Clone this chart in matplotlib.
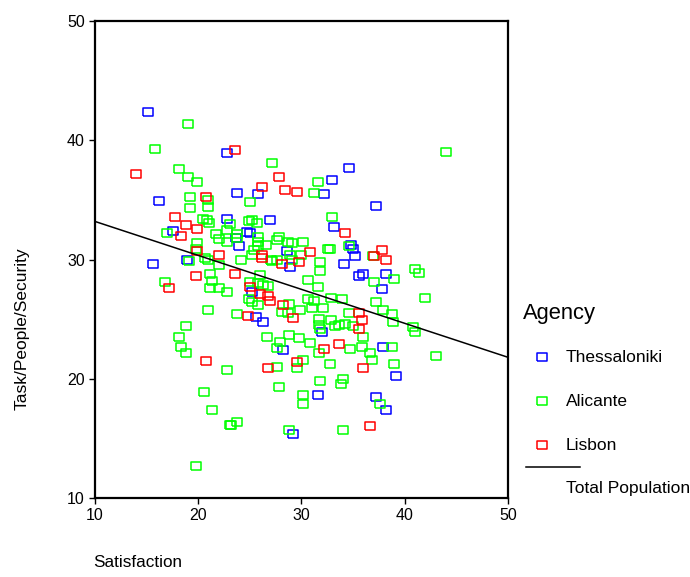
import matplotlib
matplotlib.use("Agg")
import matplotlib.pyplot as plt
from matplotlib.lines import Line2D

plt.rcParams['font.family'] = ['Liberation Sans', 'DejaVu Sans']

# Satisfaction (x) and Task/People/Security (y) per agency
thess_x = [15.2, 22.8, 16.2, 22.8, 17.6, 18.9, 15.6, 34.6, 33.0, 23.8, 25.8, 32.2, 27.0,
           33.2, 24.7, 25.0, 23.7, 24.0, 28.6, 34.1, 28.9, 25.2, 25.6, 26.3, 32.0,
           28.2, 31.6, 29.2, 37.2, 34.8, 35.0, 35.2, 35.6, 36.0, 38.2, 37.8, 37.9,
           39.2, 37.2, 38.2]
thess_y = [42.4, 38.9, 34.9, 33.4, 32.4, 30.0, 29.6, 37.7, 36.7, 35.6, 35.5, 35.5, 33.3,
           32.7, 32.3, 32.2, 31.8, 31.1, 30.7, 29.6, 29.4, 27.3, 25.2, 24.8, 23.9,
           22.4, 18.6, 15.4, 34.5, 31.2, 30.9, 30.3, 28.6, 28.8, 28.8, 27.5, 22.7,
           20.2, 18.5, 17.4]

alic_x = [19.0, 15.8, 18.2, 19.0, 19.9, 19.2, 21.0, 19.2, 21.0, 20.5, 20.9, 21.1, 17.0,
          21.7, 22.0, 22.8, 22.8, 19.9, 19.8, 20.7, 21.0, 19.1, 22.0, 21.2, 21.4,
          16.8, 21.2, 22.0, 22.8, 21.0, 18.8, 18.2, 18.4, 18.8, 22.8, 20.6, 21.4,
          23.1, 19.8, 27.2, 31.6, 25.0, 31.2, 33.0, 23.1, 24.9, 25.2, 25.7, 23.8,
          23.8, 25.8, 25.8, 27.6, 27.8, 28.7, 29.1, 30.2, 25.4, 25.8, 26.6, 32.6,
          32.8, 34.6, 25.2, 24.2, 27.1, 27.6, 28.9, 29.1, 30.0, 31.8, 26.0, 31.8,
          30.6, 25.0, 25.8, 26.3, 26.8, 31.6, 24.9, 25.2, 30.6, 31.2, 32.9, 28.8,
          25.8, 28.1, 28.7, 29.9, 31.0, 32.1, 34.6, 23.8, 31.7, 31.7, 32.9, 33.3,
          33.6, 34.2, 31.8, 26.7, 28.8, 29.8, 27.9, 30.8, 27.6, 31.7, 34.7, 30.2,
          29.6, 27.6, 32.8, 34.0, 33.8, 31.8, 27.8, 30.2, 30.2, 23.2, 23.8, 28.8,
          34.0, 44.0, 41.0, 41.4, 37.0, 39.0, 42.0, 33.9, 37.2, 37.9, 38.8, 38.9,
          35.0, 40.8, 41.0, 36.0, 35.9, 38.8, 36.6, 36.8, 43.0, 39.0, 37.6, 27.2,
          36.9]
alic_y = [41.4, 39.3, 37.6, 36.9, 36.5, 35.2, 35.0, 34.3, 34.4, 33.4, 33.3, 33.1, 32.2,
          32.1, 31.7, 31.5, 32.5, 31.4, 30.9, 30.1, 30.0, 29.9, 29.5, 28.8, 28.2,
          28.1, 27.6, 27.6, 27.3, 25.8, 24.4, 23.5, 22.7, 22.2, 20.7, 18.9, 17.4,
          16.1, 12.7, 38.1, 36.5, 34.8, 35.6, 33.6, 33.0, 33.2, 33.3, 33.1, 32.1,
          31.8, 31.9, 31.5, 31.6, 31.9, 31.5, 31.4, 31.5, 30.8, 31.1, 31.2, 30.9,
          30.9, 31.1, 30.4, 30.0, 30.0, 30.0, 30.4, 30.0, 30.4, 29.8, 28.7, 29.0,
          28.3, 28.1, 28.0, 27.9, 27.8, 27.7, 26.7, 26.4, 26.7, 26.5, 26.8, 26.3,
          26.2, 25.6, 25.5, 25.8, 25.9, 25.9, 25.5, 25.4, 25.0, 24.5, 24.9, 24.4,
          24.5, 24.6, 24.2, 23.5, 23.7, 23.4, 23.1, 23.0, 22.6, 22.2, 22.5, 21.6,
          20.9, 21.0, 21.2, 20.0, 19.6, 19.8, 19.3, 18.6, 17.9, 16.1, 16.4, 15.7,
          15.7, 39.0, 29.2, 28.9, 28.1, 28.4, 26.8, 26.7, 26.4, 25.8, 25.4, 24.8,
          24.4, 24.3, 23.9, 23.5, 22.7, 22.7, 22.2, 21.6, 21.9, 21.2, 17.9, 29.9,
          30.3]

lisb_x = [14.0, 20.8, 17.8, 18.8, 18.4, 19.9, 19.9, 22.0, 19.8, 17.2, 20.8, 23.6, 27.8,
          26.2, 28.4, 29.6, 34.2, 30.8, 26.2, 26.2, 28.1, 29.8, 23.6, 25.0, 26.0,
          26.8, 27.0, 28.2, 24.8, 29.2, 33.6, 32.2, 29.6, 26.8, 37.8, 37.0, 38.2,
          35.6, 35.9, 35.6, 36.0, 36.6]
lisb_y = [37.2, 35.2, 33.6, 32.9, 32.0, 32.6, 30.7, 30.4, 28.6, 27.6, 21.5, 39.2, 36.9,
          36.1, 35.8, 35.7, 32.2, 30.6, 30.4, 30.1, 29.6, 29.8, 28.8, 27.7, 27.1,
          26.9, 26.5, 26.2, 25.3, 25.1, 22.9, 22.5, 21.4, 20.9, 30.8, 30.3, 30.0,
          25.5, 24.9, 24.2, 20.9, 16.0]

# Total population fit line
fit_intercept = 36.05
fit_slope = -0.285

agencies = ["Thessaloniki", "Alicante", "Lisbon"]
colors = ["#0000ff", "#00ff00", "#ff0000"]

rect = [(-1.35, -1), (1.35, -1), (1.35, 1), (-1.35, 1), (-1.35, -1)]

fig = plt.figure(figsize=(6.9, 5.77), dpi=100)
ax = fig.add_axes([0.1372, 0.1369, 0.5990, 0.8267])

series = [(thess_x, thess_y), (alic_x, alic_y), (lisb_x, lisb_y)]
for (xs, ys), c in zip(series, colors):
    ax.plot(xs, ys, linestyle="none", marker=rect, markersize=7.5,
            markerfacecolor="none", markeredgecolor=c, markeredgewidth=1.1)

ax.plot([10, 50], [fit_intercept + fit_slope * 10, fit_intercept + fit_slope * 50],
        color="black", lw=1.1)

ax.set_xlim(10, 50)
ax.set_ylim(10, 50)
ax.set_xticks([10, 20, 30, 40, 50])
ax.set_yticks([10, 20, 30, 40, 50])
ax.tick_params(direction="out", length=4, width=1, labelsize=11.5, pad=3)
for s in ax.spines.values():
    s.set_linewidth(1.6)

fig.text(0.032, 0.43, "Task/People/Security", rotation=90, fontsize=12.5,
         ha="center", va="center")
fig.text(0.135, 0.012, "Satisfaction", fontsize=12.3, ha="left", va="bottom")

# legend drawn by hand
fig.text(0.758, 1 - 314 / 577, "Agency", fontsize=15.8, va="center", ha="left")
leg_y = [357, 401, 445]
for name, c, yp in zip(agencies, colors, leg_y):
    fig.add_artist(Line2D([542 / 690], [1 - yp / 577], marker=rect, markersize=7,
                          markerfacecolor="none", markeredgecolor=c,
                          markeredgewidth=1.1, linestyle="none"))
    fig.text(566 / 690, 1 - yp / 577, name, fontsize=12.5, va="center", ha="left")
fig.add_artist(Line2D([526 / 690, 580 / 690], [1 - 467 / 577, 1 - 467 / 577],
                      color="black", lw=1.1))
fig.text(566 / 690, 1 - 488 / 577, "Total Population", fontsize=12.5,
         va="center", ha="left")

fig.savefig("out.png", dpi=100)
